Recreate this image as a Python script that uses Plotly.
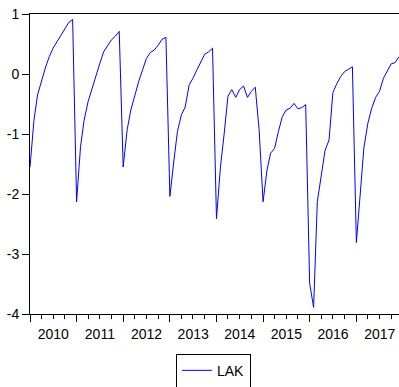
import pandas as pd
import plotly.graph_objects as go

# Monthly observations, 2010M01 .. 2017M12
start_month = "2010-01-01"
lak_2010 = [-1.55, -0.77, -0.35, -0.10, 0.10, 0.29, 0.43, 0.54, 0.65, 0.76, 0.86, 0.91]
lak_2011 = [-2.13, -1.21, -0.77, -0.46, -0.24, -0.02, 0.17, 0.37, 0.48, 0.57, 0.63, 0.71]
lak_2012 = [-1.55, -0.93, -0.60, -0.35, -0.13, 0.07, 0.26, 0.36, 0.40, 0.48, 0.58, 0.61]
lak_2013 = [-2.04, -1.45, -0.96, -0.68, -0.55, -0.18, -0.07, 0.07, 0.20, 0.33, 0.37, 0.43]
lak_2014 = [-2.41, -1.55, -1.02, -0.37, -0.26, -0.39, -0.26, -0.20, -0.39, -0.29, -0.22, -0.93]
lak_2015 = [-2.13, -1.60, -1.32, -1.24, -0.96, -0.71, -0.60, -0.57, -0.49, -0.58, -0.56, -0.51]
lak_2016 = [-3.49, -3.89, -2.13, -1.66, -1.27, -1.10, -0.31, -0.16, -0.04, 0.04, 0.08, 0.12]
lak_2017 = [-2.81, -1.93, -1.23, -0.82, -0.57, -0.39, -0.29, -0.07, 0.04, 0.17, 0.19, 0.29]

lak = lak_2010 + lak_2011 + lak_2012 + lak_2013 + lak_2014 + lak_2015 + lak_2016 + lak_2017
dates = pd.date_range(start_month, periods=len(lak), freq="MS")

y_ticks = [1, 0, -1, -2, -3, -4]
y_tick_labels = ["1", "0", "-1", "-2", "-3", "-4"]

FONT = "Arial, Liberation Sans, sans-serif"

fig = go.Figure()
fig.add_trace(go.Scatter(
    x=dates, y=lak, mode="lines", name="LAK",
    line=dict(color="#0000FF", width=1),
))

fig.update_layout(
    width=399, height=387,
    margin=dict(l=30, r=0, t=14, b=73, autoexpand=False),
    paper_bgcolor="white", plot_bgcolor="white",
    font=dict(family=FONT, size=14, color="black"),
    showlegend=True,
    legend=dict(
        orientation="h", x=0.535, xanchor="center", xref="container",
        y=0.042, yanchor="middle", yref="container",
        bordercolor="black", borderwidth=1,
        font=dict(family=FONT, size=14, color="black"),
        itemwidth=30,
    ),
    xaxis=dict(
        type="date", automargin=False,
        range=[dates[0], dates[-1]],
        showgrid=False, zeroline=False,
        showline=True, linecolor="black", linewidth=1, mirror=True,
        ticks="outside", ticklen=7, tickcolor="black",
        tick0="2010-01-01", dtick="M12",
        tickformat="%Y", ticklabelmode="period",
        minor=dict(dtick="M3", tick0="2010-01-01", ticks="outside", ticklen=4, tickcolor="black", showgrid=False),
        tickfont=dict(family=FONT, size=14),
    ),
    yaxis=dict(
        automargin=False,
        range=[-4, 1],
        tickmode="array", tickvals=y_ticks, ticktext=y_tick_labels,
        showgrid=False, zeroline=False,
        showline=True, linecolor="black", linewidth=1,
        ticks="outside", ticklen=7, tickcolor="black",
        tickfont=dict(family=FONT, size=14),
    ),
)

fig.write_html(
    "out.html",
    config={"displayModeBar": False},
    post_script="document.body.style.margin='0';document.body.style.overflow='hidden';",
)
